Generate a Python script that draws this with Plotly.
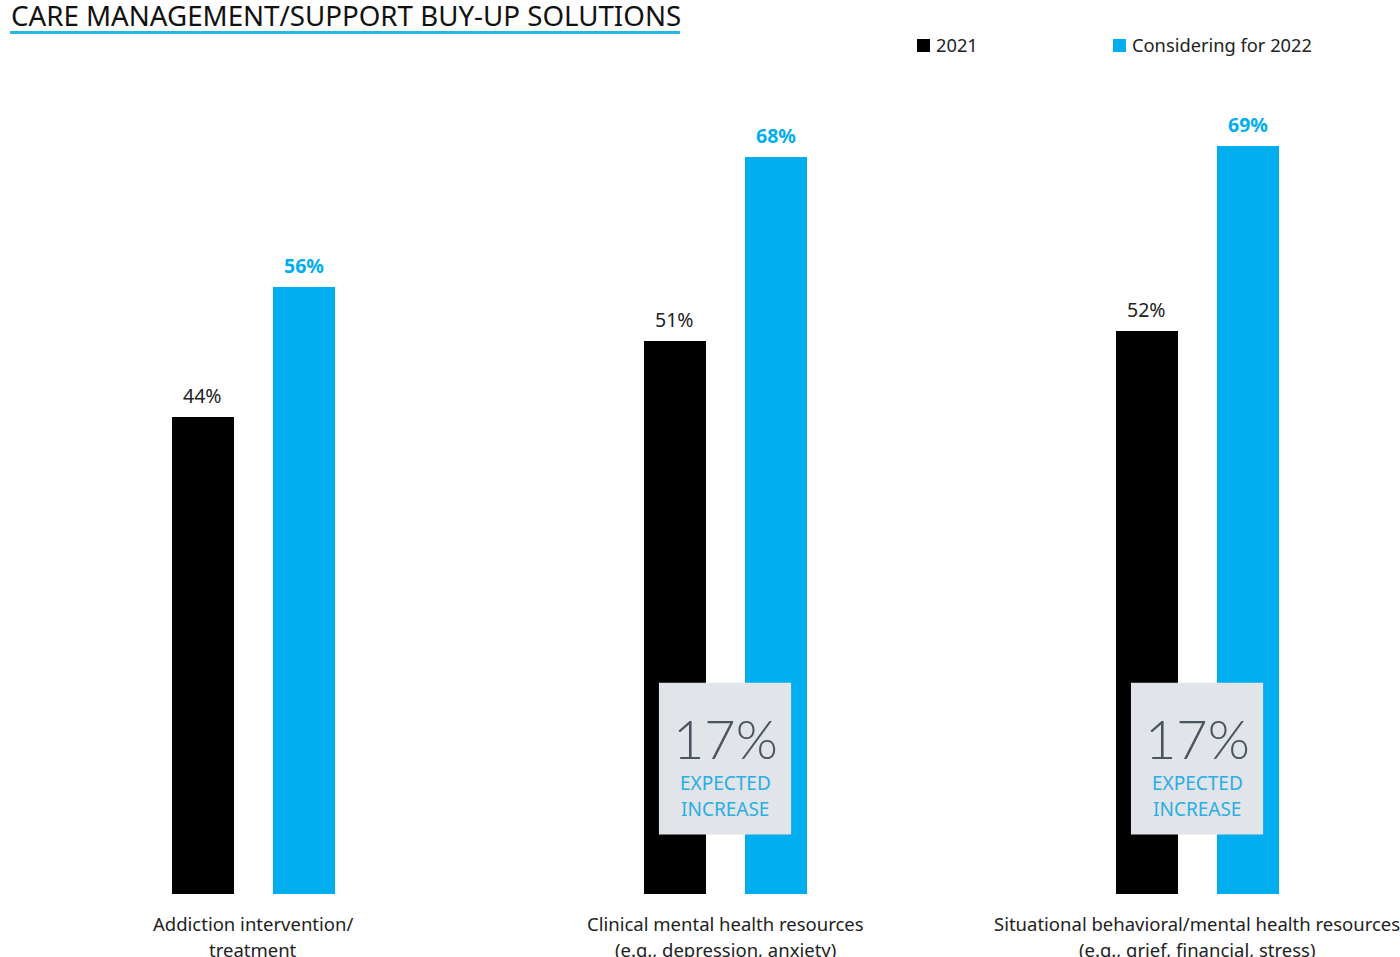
import plotly.graph_objects as go

categories_line1 = ["Addiction intervention/",
                    "Clinical mental health resources",
                    "Situational behavioral/mental health resources"]
categories_line2 = ["treatment",
                    "(e.g., depression, anxiety)",
                    "(e.g., grief, financial, stress)"]
values_2021 = [44, 51, 52]
values_2022 = [56, 68, 69]
increase_labels = [None, "17%", "17%"]
series_names = ["2021", "Considering for 2022"]

BLACK = "#000000"
BLUE = "#00adef"
FONT = "Noto Sans"

W, H = 1400, 957
B = 63
ph = H - B

xs = list(range(len(values_2021)))
bw = 0.131

fig = go.Figure()
fig.add_trace(go.Bar(x=xs, y=values_2021, width=bw, offset=-0.1716,
                     marker=dict(color=BLACK, line=dict(width=0)), name=series_names[0]))
fig.add_trace(go.Bar(x=xs, y=values_2022, width=bw, offset=0.0424,
                     marker=dict(color=BLUE, line=dict(width=0)), name=series_names[1]))

ann = []
shapes = []
for i, (a, b) in enumerate(zip(values_2021, values_2022)):
    ann.append(dict(x=i - 0.1716 + bw / 2, y=a, xref="x", yref="y", text=f"{a}%",
                    showarrow=False, yanchor="bottom", yshift=6,
                    font=dict(family=FONT, size=19.5, color="#222222")))
    ann.append(dict(x=i + 0.0424 + bw / 2, y=b, xref="x", yref="y", text=f"<b>{b}%</b>",
                    showarrow=False, yanchor="bottom", yshift=6,
                    font=dict(family=FONT, size=19.5, color=BLUE)))
    ann.append(dict(x=i, y=0, xref="x", yref="paper", text=categories_line1[i],
                    showarrow=False, yanchor="middle", yshift=-29,
                    font=dict(family=FONT, size=18.5, color="#222222")))
    ann.append(dict(x=i, y=0, xref="x", yref="paper", text=categories_line2[i],
                    showarrow=False, yanchor="middle", yshift=-55,
                    font=dict(family=FONT, size=18.5, color="#222222")))
    if increase_labels[i]:
        shapes.append(dict(type="rect", xref="x", yref="y", x0=i - 0.14, x1=i + 0.14,
                           y0=5.5, y1=19.5, fillcolor="#e1e4e8", line=dict(width=0), layer="above"))
        ann.append(dict(x=i, y=0, xref="x", yref="paper", text=increase_labels[i],
                        showarrow=False, yanchor="middle", yshift=894 - 738,
                        font=dict(family="Lato", size=54, color="#4a5560", weight=300)))
        ann.append(dict(x=i, y=0, xref="x", yref="paper", text="EXPECTED",
                        showarrow=False, yanchor="middle", yshift=894 - 783,
                        font=dict(family=FONT, size=19, color="#29aee6")))
        ann.append(dict(x=i, y=0, xref="x", yref="paper", text="INCREASE",
                        showarrow=False, yanchor="middle", yshift=894 - 809,
                        font=dict(family=FONT, size=19, color="#29aee6")))


def px2paper(x, y):
    return x / W, (ph - y) / ph


def pix_ann(text, x, y, size, color, xanchor="left"):
    px, py = px2paper(x, y)
    return dict(x=px, y=py, xref="paper", yref="paper", text=text, showarrow=False,
                xanchor=xanchor, yanchor="middle", font=dict(family=FONT, size=size, color=color))


ann.append(pix_ann("CARE MANAGEMENT/SUPPORT BUY-UP SOLUTIONS", 9, 15, 27.7, "#111111"))
ann.append(pix_ann(series_names[0], 934, 45, 18.3, "#222222"))
ann.append(pix_ann(series_names[1], 1130, 45, 18.3, "#222222"))

# title underline
x0, y0 = px2paper(10, 31)
x1, y1 = px2paper(680, 34)
shapes.append(dict(type="rect", xref="paper", yref="paper", x0=x0, x1=x1, y0=y1, y1=y0,
                   fillcolor="#29b4e8", line=dict(width=0)))
# legend squares
for lx, col in [(917, BLACK), (1113, BLUE)]:
    a0, b0 = px2paper(lx, 39)
    a1, b1 = px2paper(lx + 13, 52)
    shapes.append(dict(type="rect", xref="paper", yref="paper", x0=a0, x1=a1, y0=b1, y1=b0,
                       fillcolor=col, line=dict(width=0)))

fig.update_layout(
    width=W, height=H, margin=dict(l=0, r=0, t=0, b=B),
    plot_bgcolor="white", paper_bgcolor="white", showlegend=False,
    xaxis=dict(range=[-0.536, 2.430], visible=False, showgrid=False, zeroline=False),
    yaxis=dict(range=[0, 82.5], visible=False, showgrid=False, zeroline=False),
    bargap=0,
    annotations=ann, shapes=shapes,
)
fig.write_html("out.html")
